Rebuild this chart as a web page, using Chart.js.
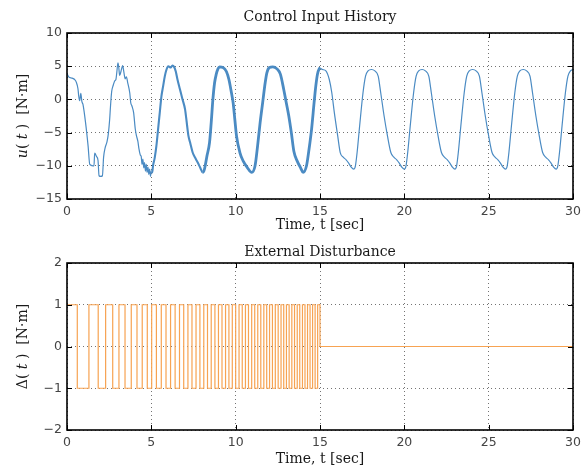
<!DOCTYPE html>
<html><head><meta charset="utf-8">
<script src="https://cdn.jsdelivr.net/npm/chart.js@4"></script>
<style>
html,body{margin:0;padding:0;background:#fff;width:581px;height:469px;overflow:hidden}
canvas{position:absolute;left:0}
#c1{top:0}
#c2{top:234px}
</style></head><body>
<canvas id="c1" width="581" height="234"></canvas>
<canvas id="c2" width="581" height="235"></canvas>
<script>
// ---------- data ----------
const xTicks = [0, 5, 10, 15, 20, 25, 30];
const uTicks = [-15, -10, -5, 0, 5, 10];
const dTicks = [-2, -1, 0, 1, 2];

const uTime = [
 0, 0.1, 0.3, 0.45, 0.55, 0.65, 0.7, 0.75, 0.82, 0.88, 0.95, 1.1, 1.25, 1.35, 1.54, 1.6, 1.64, 1.75, 1.84, 1.9, 2.0, 2.1,
 2.17, 2.25, 2.37, 2.45, 2.53, 2.58, 2.65, 2.75, 2.83, 2.9, 2.95, 3.02, 3.07, 3.12, 3.2, 3.3, 3.36, 3.45, 3.52, 3.6,
 3.72, 3.78, 3.85, 3.95, 4.05, 4.12, 4.2, 4.27, 4.35, 4.4, 4.45, 4.5, 4.55, 4.6, 4.65, 4.7, 4.75, 4.8, 4.85, 4.9, 4.95, 5.0,
 5.05, 5.1, 5.2, 5.3, 5.4, 5.5, 5.6, 5.7, 5.8, 5.9, 6.0, 6.15, 6.25, 6.35, 6.45, 6.55, 6.7, 6.85, 7.0, 7.1, 7.2, 7.3,
 7.45, 7.6, 7.75, 7.9, 8.05, 8.15, 8.3, 8.45, 8.55, 8.65, 8.75, 8.85, 8.95, 9.05, 9.25, 9.45, 9.6, 9.75, 9.85, 9.95,
 10.05, 10.25, 10.45, 10.7, 10.95, 11.15, 11.3, 11.45, 11.6, 11.75, 11.85, 12.0, 12.2, 12.45, 12.65, 12.85, 13.0, 13.15,
 13.3, 13.45, 13.65, 13.85, 14.0, 14.2, 14.35, 14.5, 14.65, 14.75, 14.85, 14.95,
 15.0, 15.15, 15.35, 15.55, 15.7, 15.85, 16.05, 16.2, 16.38, 16.55, 16.7, 16.85,
 17.0, 17.1, 17.2, 17.35, 17.55, 17.7, 17.85, 18.05, 18.25, 18.45, 18.6, 18.8, 19.0, 19.2, 19.38, 19.55, 19.7, 19.85,
 20.0, 20.1, 20.2, 20.35, 20.55, 20.7, 20.85, 21.05, 21.25, 21.45, 21.6, 21.8, 22.0, 22.2, 22.38, 22.55, 22.7, 22.85,
 23.0, 23.1, 23.2, 23.35, 23.55, 23.7, 23.85, 24.05, 24.25, 24.45, 24.6, 24.8, 25.0, 25.2, 25.38, 25.55, 25.7, 25.85,
 26.0, 26.1, 26.2, 26.35, 26.55, 26.7, 26.85, 27.05, 27.25, 27.45, 27.6, 27.8, 28.0, 28.2, 28.38, 28.55, 28.7, 28.85,
 29.0, 29.1, 29.2, 29.35, 29.55, 29.7, 29.85, 30.0
];
const uValue = [
 3.9, 3.4, 3.2, 3.0, 2.6, 1.6, 0.4, -0.2, 0.9, -0.3, -0.8, -3.5, -7.0, -9.8, -10.0, -10.0, -8.1, -8.6, -9.2, -11.5, -11.6, -11.5,
 -8.7, -7.4, -6.4, -5.2, -3.0, -1.0, 1.2, 2.2, 2.8, 3.0, 4.0, 5.5, 4.8, 3.6, 4.2, 5.1, 4.3, 3.1, 3.4, 2.5,
 1.0, -0.5, -1.0, -2.0, -4.5, -5.5, -6.3, -7.5, -8.4, -8.6, -9.8, -9.0, -10.3, -9.5, -10.8, -9.8, -11.0, -10.2, -11.3, -10.5, -11.6, -10.8,
 -11.0, -10.0, -8.8, -7.0, -4.5, -2.0, 0.5, 2.0, 3.5, 4.5, 5.0, 4.8, 5.1, 4.9, 4.2, 3.0, 1.5, 0.0, -1.5, -3.5, -5.5, -6.5,
 -8.0, -8.8, -9.5, -10.3, -11.0, -10.5, -8.5, -6.5, -3.5, 0.0, 2.5, 3.8, 4.6, 4.9, 4.8, 4.2, 3.0, 1.0, -0.5, -3.0,
 -5.5, -8.0, -9.3, -10.3, -11.0, -10.0, -7.0, -3.5, -0.5, 2.5, 4.0, 4.8, 4.9, 4.6, 3.8, 1.5, -0.5, -2.5,
 -5.0, -7.8, -9.3, -10.3, -11.0, -10.0, -7.5, -4.5, -0.5, 2.0, 3.8, 4.6,
 4.7, 4.5, 4.3, 3.0, 1.0, -2.0, -5.5, -8.0, -8.7, -9.1, -9.6, -10.2,
 -10.5, -10.0, -8.0, -4.0, 1.0, 3.5, 4.3, 4.5, 4.3, 3.5, 1.0, -2.5, -5.5, -8.0, -8.7, -9.1, -9.6, -10.2,
 -10.5, -10.0, -8.0, -4.0, 1.0, 3.5, 4.3, 4.5, 4.3, 3.5, 1.0, -2.5, -5.5, -8.0, -8.7, -9.1, -9.6, -10.2,
 -10.5, -10.0, -8.0, -4.0, 1.0, 3.5, 4.3, 4.5, 4.3, 3.5, 1.0, -2.5, -5.5, -8.0, -8.7, -9.1, -9.6, -10.2,
 -10.5, -10.0, -8.0, -4.0, 1.0, 3.5, 4.3, 4.5, 4.3, 3.5, 1.0, -2.5, -5.5, -8.0, -8.7, -9.1, -9.6, -10.2,
 -10.5, -10.0, -8.0, -4.0, 1.0, 3.5, 4.3, 4.5
];

// disturbance: starts at +1, flips sign at each edge time, becomes 0 at dOffTime
const dStartLevel = 1;
const dEdges = [
 0.61, 1.30, 1.85, 2.29, 2.71, 3.08, 3.44, 3.81, 4.15, 4.46, 4.76, 5.02, 5.30, 5.59, 5.87, 6.14, 6.41, 6.67,
 6.92, 7.17, 7.41, 7.65, 7.88, 8.11, 8.33, 8.55, 8.77, 8.98, 9.19, 9.40, 9.60, 9.80, 10.00, 10.20, 10.39,
 10.58, 10.76, 10.95, 11.13, 11.31, 11.49, 11.67, 11.84, 12.01, 12.18, 12.35, 12.52, 12.69, 12.85, 13.01,
 13.17, 13.33, 13.49, 13.65, 13.80, 13.96, 14.11, 14.26, 14.41, 14.56, 14.71, 14.86
];
const dOffTime = 15;
const dEndTime = 30;

// ---------- build datasets ----------
const uPoints = uTime.map((t, i) => ({x: t, y: uValue[i]}));
const dPoints = [{x: 0, y: dStartLevel}];
let lvl = dStartLevel;
dEdges.forEach(t => { lvl = -lvl; dPoints.push({x: t, y: lvl}); });
dPoints.push({x: dOffTime, y: 0});
dPoints.push({x: dEndTime, y: 0});

const minus = v => String(v).replace('-', '\u2212');
const SERIF = '"DejaVu Serif", serif';
const SANS = '"DejaVu Sans", sans-serif';

const framePlugin = {
  id: 'frame',
  afterDraw(chart, args, o) {
    const {ctx, chartArea: a, scales} = chart;
    ctx.save();
    ctx.strokeStyle = '#000';
    ctx.lineWidth = 1;
    const ln = (x1, y1, x2, y2) => { ctx.beginPath(); ctx.moveTo(x1, y1); ctx.lineTo(x2, y2); ctx.stroke(); };
    scales.x.ticks.forEach(t => {
      const p = Math.round(scales.x.getPixelForValue(t.value)) + 0.5;
      ln(p, a.top, p, a.top + 5); ln(p, a.bottom, p, a.bottom - 5);
    });
    scales.y.ticks.forEach(t => {
      const p = Math.round(scales.y.getPixelForValue(t.value)) + 0.5;
      ln(a.left, p, a.left + 5, p); ln(a.right, p, a.right - 5, p);
    });
    ctx.lineWidth = 1.6;
    ctx.strokeRect(a.left, a.top, a.right - a.left, a.bottom - a.top);
    // texts
    ctx.fillStyle = '#1a1a1a';
    ctx.textAlign = 'center';
    ctx.textBaseline = 'middle';
    ctx.font = '14px ' + SERIF;
    const cx = (a.left + a.right) / 2;
    ctx.fillText(o.title, cx, o.titleY);
    ctx.fillText(o.xlabel, cx, o.xlabelY);
    // y label, mixed italic/roman
    ctx.translate(o.ylabelX, (a.top + a.bottom) / 2);
    ctx.rotate(-Math.PI / 2);
    ctx.textAlign = 'left';
    const fonts = {i: 'italic 14px ' + SERIF, r: '14px ' + SERIF};
    let w = 0;
    o.ylabel.forEach(([s, f]) => { ctx.font = fonts[f]; w += ctx.measureText(s).width; });
    let x = -w / 2;
    o.ylabel.forEach(([s, f]) => { ctx.font = fonts[f]; ctx.fillText(s, x, 0); x += ctx.measureText(s).width; });
    ctx.restore();
  }
};

function makeChart(id, datasets, yMin, yMax, padTop, xHeight, frameOpts) {
  return new Chart(document.getElementById(id), {
    type: 'line',
    data: {datasets},
    plugins: [framePlugin],
    options: {
      responsive: false,
      animation: false,
      devicePixelRatio: 1,
      layout: {padding: {top: padTop, right: 8, left: 0, bottom: 0}},
      elements: {point: {radius: 0}},
      plugins: {legend: {display: false}, tooltip: {enabled: false}, title: {display: false}, frame: frameOpts},
      scales: {
        x: {
          type: 'linear', min: 0, max: 30,
          afterBuildTicks: s => { s.ticks = xTicks.map(v => ({value: v})); },
          afterFit: s => { s.height = xHeight; s.paddingLeft = 0; s.paddingRight = 0; },
          grid: {color: 'rgba(0,0,0,0.55)', lineWidth: 1, drawTicks: false},
          border: {display: false, dash: [1, 3]},
          ticks: {padding: 5, color: '#444', font: {family: SANS, size: 12.5}, callback: v => minus(v), maxRotation: 0}
        },
        y: {
          type: 'linear', min: yMin, max: yMax,
          afterBuildTicks: s => { s.ticks = frameOpts.yt.map(v => ({value: v})); },
          afterFit: s => { s.width = 67; s.paddingTop = 0; s.paddingBottom = 0; },
          grid: {color: 'rgba(0,0,0,0.55)', lineWidth: 1, drawTicks: false},
          border: {display: false, dash: [1, 3]},
          ticks: {padding: 5, color: '#444', font: {family: SANS, size: 12.5}, callback: v => minus(v)}
        }
      }
    }
  });
}

makeChart('c1', [{
  data: uPoints,
  borderColor: '#4b8bc3',
  borderWidth: 1.2,
  cubicInterpolationMode: 'monotone',
  segment: {borderWidth: c => { const x = c.p0.parsed.x; return (x >= 5 && x < 15) ? (x >= 8 ? 2.8 : 2.1) : 1.2; }}
}], -15, 10, 33, 35, {
  title: 'Control Input History', titleY: 17, xlabel: 'Time, t [sec]', xlabelY: 225, ylabelX: 23,
  ylabel: [['u', 'i'], ['( ', 'r'], ['t', 'i'], [' )  [N\u00b7m]', 'r']], yt: uTicks
});

makeChart('c2', [{
  data: dPoints,
  borderColor: '#f7a352',
  borderWidth: 1.2,
  stepped: true,
  tension: 0
}], -2, 2, 29, 39, {
  title: 'External Disturbance', titleY: 18, xlabel: 'Time, t [sec]', xlabelY: 225, ylabelX: 23,
  ylabel: [['\u0394', 'r'], ['( ', 'r'], ['t', 'i'], [' )  [N\u00b7m]', 'r']], yt: dTicks
});
</script>
</body></html>
